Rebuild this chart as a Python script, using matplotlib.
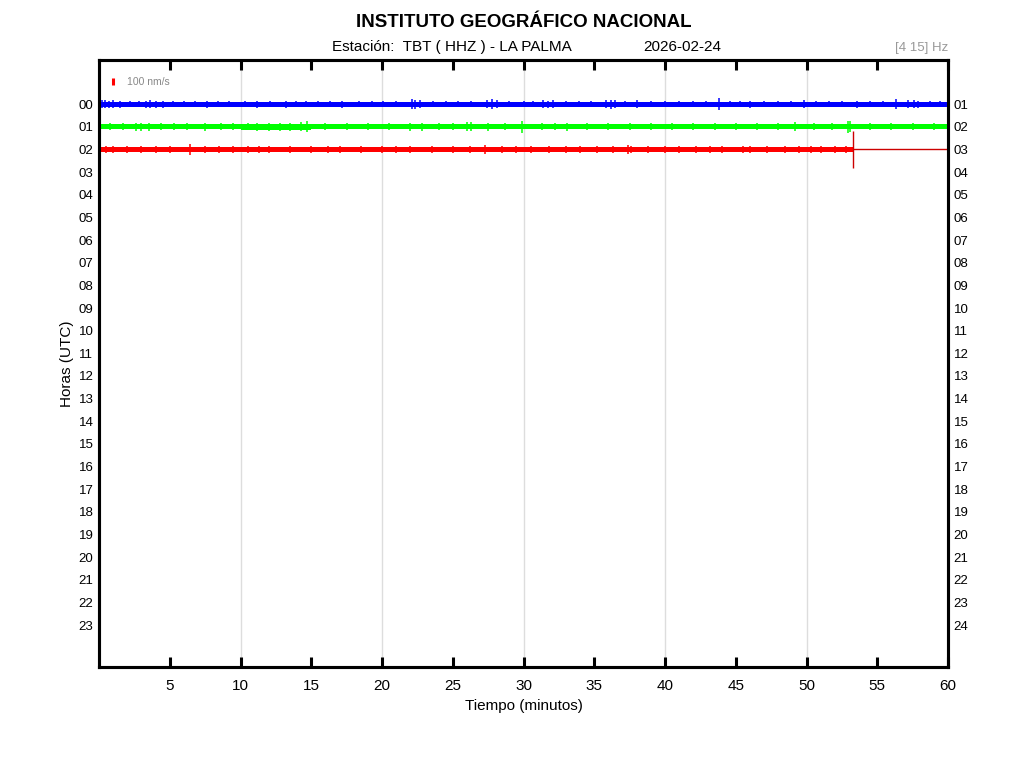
import numpy as np
import matplotlib
matplotlib.use('Agg')
import matplotlib.pyplot as plt

plt.rcParams['font.family'] = ['Liberation Sans', 'DejaVu Sans']

# hour rows
left_hours = ['%02d' % h for h in range(24)]
right_hours = ['%02d' % (h + 1) for h in range(24)]
xticks = [5, 10, 15, 20, 25, 30, 35, 40, 45, 50, 55, 60]

# trace colours (hour 00, 01, 02)
trace_colors = ['#0000ff', '#00ff00', '#ff0000']

# noise band half-width (nm/s), one value per 5 minutes
band_start = [0, 5, 10, 15, 20, 25, 30, 35, 40, 45, 50, 55]
blue_band = [36, 34, 34, 34, 36, 36, 34, 34, 36, 34, 36, 34]
green_band = [36, 36, 40, 36, 36, 38, 36, 36, 36, 38, 36, 38]
red_band = [36, 34, 34, 34, 36, 36, 34, 36, 36, 38, 36]

# isolated spikes (minute, half amplitude nm/s)
blue_spike_t = [0.2, 0.4, 0.7, 1.0, 1.5, 2.2, 2.8, 3.3, 3.6, 4.0, 4.5, 5.2, 6.0, 6.8,
                7.6, 8.4, 9.2, 10.3, 11.2, 12.1, 13.2, 13.9, 14.6, 15.5, 16.3, 17.2,
                18.4, 19.3, 20.1, 21.0, 22.1, 22.3, 22.7, 23.6, 24.5, 25.4, 26.3,
                27.4, 27.8, 28.1, 29.0, 30.0, 30.7, 31.4, 31.7, 32.1, 33.0, 33.9,
                34.8, 35.8, 36.2, 36.5, 37.2, 38.0, 39.0, 40.0, 41.0, 42.0, 42.9,
                43.8, 44.6, 45.3, 46.0, 47.0, 48.0, 48.9, 49.8, 50.7, 51.6, 52.5,
                53.6, 54.5, 55.4, 56.3, 57.2, 57.6, 57.9, 58.7, 59.4]
blue_spike_a = [60, 55, 50, 55, 50, 45, 45, 50, 55, 50, 50, 45, 45, 45,
                50, 45, 45, 45, 50, 45, 50, 45, 45, 45, 45, 50,
                45, 45, 45, 45, 70, 65, 55, 45, 45, 45, 45,
                60, 75, 60, 45, 45, 45, 55, 50, 55, 45, 45,
                45, 55, 65, 55, 45, 55, 45, 45, 45, 45, 45,
                85, 45, 45, 50, 45, 45, 45, 55, 45, 45, 45,
                50, 45, 45, 75, 60, 55, 50, 45, 45]
green_spike_t = [0.8, 1.7, 2.6, 3.0, 3.5, 4.4, 5.3, 6.2, 7.5, 8.6, 9.5, 10.5, 11.2,
                 12.0, 12.8, 13.5, 14.3, 14.7, 16.0, 17.5, 19.0, 20.5, 22.0, 22.8,
                 24.0, 25.0, 26.0, 26.3, 27.5, 28.7, 29.9, 31.3, 32.2, 33.1, 34.5,
                 36.0, 37.5, 39.0, 40.5, 42.0, 43.5, 45.0, 46.5, 48.0, 49.2, 50.5,
                 51.8, 52.9, 53.1, 54.5, 56.0, 57.5, 59.0]
green_spike_a = [50, 50, 55, 60, 55, 50, 50, 50, 55, 50, 50, 50, 55,
                 55, 55, 60, 65, 80, 50, 50, 50, 50, 55, 55,
                 50, 50, 65, 65, 55, 50, 85, 50, 50, 60, 50,
                 50, 50, 50, 50, 50, 50, 50, 50, 50, 65, 50,
                 50, 90, 80, 50, 50, 50, 50]
red_spike_t = [0.5, 1.0, 2.0, 3.0, 4.0, 5.0, 6.4, 7.5, 8.5, 9.5, 10.5, 11.3, 12.0,
               13.5, 15.0, 16.2, 17.0, 18.5, 20.0, 21.0, 22.0, 23.5, 25.0, 26.2,
               27.3, 28.5, 29.5, 30.5, 31.8, 33.0, 34.0, 35.2, 36.3, 37.4, 37.6,
               38.8, 40.0, 41.0, 42.2, 43.2, 44.0, 45.5, 46.0, 47.2, 48.5, 49.5,
               50.3, 51.0, 52.0, 52.8]
red_spike_a = [45, 45, 45, 45, 45, 45, 80, 45, 45, 45, 45, 45, 45,
               45, 45, 45, 45, 45, 45, 45, 45, 45, 45, 45,
               60, 45, 45, 45, 45, 45, 45, 45, 45, 60, 55,
               45, 45, 45, 45, 45, 45, 55, 55, 45, 45, 45,
               45, 45, 45, 45]

blue_start_amp = 270     # step at the start of hour 00
red_end_min = 53.3       # data stops here in hour 02
red_end_amp = 270

scale_nm = 100           # scale bar
rows_per_nm = 0.309 / 100.0

fig = plt.figure(figsize=(10.24, 7.68), dpi=100)
ax = fig.add_axes([99 / 1024, 1 - 667 / 768, 849 / 1024, 607 / 768])

traces = [
    (blue_band, blue_spike_t, blue_spike_a, 60.0),
    (green_band, green_spike_t, green_spike_a, 60.0),
    (red_band, red_spike_t, red_spike_a, red_end_min),
]

for row, (band, st, sa, tend) in enumerate(traces):
    c = trace_colors[row]
    bx = np.array(band_start[:len(band)] + [tend], dtype=float)
    hw = np.array(band + [band[-1]], dtype=float) * rows_per_nm
    ax.fill_between(bx, row - hw, row + hw, step='post', color=c, lw=0, zorder=3)
    st = np.array(st)
    sa = np.array(sa) * rows_per_nm
    ax.vlines(st, row - sa, row + sa, color=c, lw=1.1, zorder=3)

# start step on hour 00
ax.vlines(0.03, -blue_start_amp * rows_per_nm, 0.1, color=trace_colors[0], lw=1.2, zorder=3)
# end of data on hour 02
ax.vlines(red_end_min, 2 - red_end_amp * rows_per_nm, 2 + red_end_amp * rows_per_nm,
          color='#cc0000', lw=1.0, zorder=3)
ax.hlines(2, red_end_min, 60, color='#cc0000', lw=1.0, zorder=3)

# scale bar
ax.vlines(1.0, -1.0 - scale_nm / 2 * rows_per_nm, -1.0 + scale_nm / 2 * rows_per_nm,
          color='#ff0000', lw=2.2, zorder=3)
ax.text(1.95, -0.99, '%d nm/s' % scale_nm, color='#888888', fontsize=7.5, va='center')

ax.set_xlim(0, 60)
ax.set_ylim(24.85, -1.95)

ax.set_xticks(xticks)
ax.set_xticklabels([str(t) for t in xticks], fontsize=11)
ax.tick_params(axis='x', direction='in', length=7, width=2.2, top=True, pad=9)
for x in [10, 20, 30, 40, 50]:
    ax.axvline(x, color='#dddddd', lw=1.0, zorder=1)

ax.set_yticks(range(24))
ax.set_yticklabels(left_hours, fontsize=9.5)
ax.tick_params(axis='y', length=0, pad=4)
ax2 = ax.twinx()
ax2.set_ylim(ax.get_ylim())
ax2.set_yticks(range(24))
ax2.set_yticklabels(right_hours, fontsize=9.5)
ax2.tick_params(axis='y', length=0, pad=4)

for a in (ax, ax2):
    for s in a.spines.values():
        s.set_linewidth(2.2)

ax.set_xlabel('Tiempo (minutos)', fontsize=11, labelpad=4)
ax.set_ylabel('Horas (UTC)', fontsize=11, labelpad=3)

fig.text(0.512, 0.982, 'INSTITUTO GEOGRÁFICO NACIONAL', fontsize=13.5,
         fontweight='bold', ha='center', va='top')
fig.text(452 / 1024, 1 - 47 / 768, 'Estación:  TBT ( HHZ ) - LA PALMA', fontsize=11,
         ha='center', va='center')
fig.text(682 / 1024, 1 - 47 / 768, '2026-02-24', fontsize=11, ha='center', va='center')
fig.text(948 / 1024, 1 - 48 / 768, '[4 15] Hz', fontsize=9.5, color='#999999',
         ha='right', va='center')

fig.savefig('out.png', dpi=100)
